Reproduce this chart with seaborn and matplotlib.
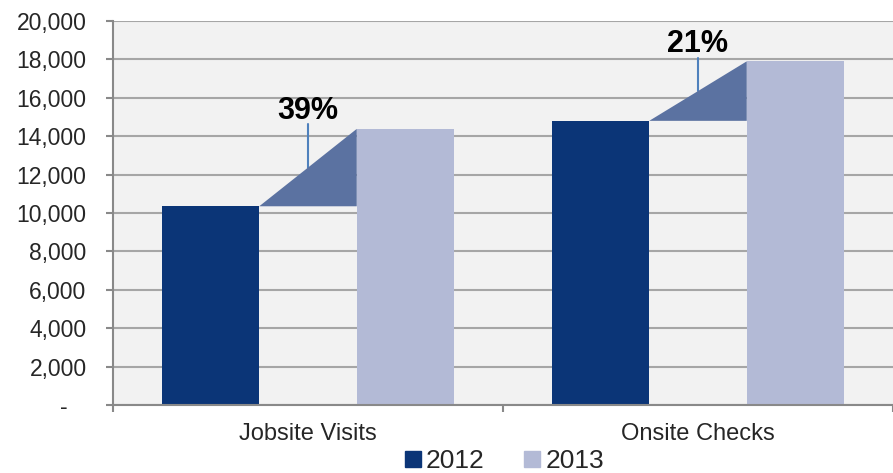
import pandas as pd
import seaborn as sns
import matplotlib.pyplot as plt
from matplotlib.lines import Line2D
from matplotlib.patches import Polygon
from matplotlib.ticker import FuncFormatter


categories = ['Jobsite Visits', 'Onsite Checks']
years = ['2012', '2013']
values_2012 = [10350, 14800]
values_2013 = [14380, 17900]
y_ticks = list(range(0, 20001, 2000))

bar_colors = ['#0B3577', '#B3BAD6']
wedge_color = '#5B72A1'
leader_color = '#4F81BD'
axis_gray = '#898989'

df = pd.DataFrame({
    'category': categories * 2,
    'year': [years[0]] * len(categories) + [years[1]] * len(categories),
    'value': values_2012 + values_2013,
})

sns.set_theme(style='white')
plt.rcParams['font.family'] = ['Liberation Sans', 'DejaVu Sans']

fig = plt.figure(figsize=(8.93, 4.73), dpi=100)
ax = fig.add_axes([113 / 893, 1 - 405 / 473, 1 - 113 / 893, (405 - 21) / 473])
ax.set_facecolor('#F2F2F2')
ax.set_axisbelow(True)

sns.barplot(data=df, x='category', y='value', hue='year', palette=bar_colors,
            width=1.0, gap=0.5, saturation=1, errorbar=None, legend=False,
            linewidth=0, edgecolor='none', ax=ax)

# wedge + leader line + growth label between each pair of bars
for i in range(len(categories)):
    r1 = ax.containers[0][i]
    r2 = ax.containers[1][i]
    x0 = r1.get_x() + r1.get_width()
    x1 = r2.get_x()
    y0 = r1.get_height()
    y1 = r2.get_height()
    ax.add_patch(Polygon([(x0, y0), (x1, y1), (x1, y0)], closed=True,
                         facecolor=wedge_color, edgecolor='none', zorder=3))
    xm = (x0 + x1) / 2
    ym = (y0 + y1) / 2
    top = ym + 0.56 * (y1 - y0)
    ax.plot([xm, xm], [ym, top], color=leader_color, lw=1.5, zorder=2)
    ax.text(xm, top + 300, f'{y1 / y0 - 1:.0%}', ha='center', va='baseline',
            fontsize=22, fontweight='bold', color='black')

ax.set_ylim(0, 20000)
ax.set_xlim(-0.5, len(categories) - 0.5)
ax.set_yticks(y_ticks)
ax.yaxis.set_major_formatter(FuncFormatter(lambda v, p: '-   ' if v == 0 else f'{v:,.0f}'))
ax.yaxis.grid(True, color='#A6A6A6', lw=1.5)
ax.xaxis.grid(False)

ax.set_xticks([k - 0.5 for k in range(len(categories) + 1)])
ax.set_xticklabels([''] * (len(categories) + 1))
ax.set_xticks(range(len(categories)), minor=True)
ax.set_xticklabels(categories, minor=True)
ax.tick_params(axis='x', which='major', bottom=True, length=5, width=1.5, color=axis_gray)
ax.tick_params(axis='x', which='minor', bottom=True, length=0, pad=13, labelsize=17)
ax.tick_params(axis='y', left=True, length=5, width=1.5, color=axis_gray, pad=14, labelsize=16.5)
ax.set_xlabel('')
ax.set_ylabel('')

for s in ['top', 'right']:
    ax.spines[s].set_visible(False)
for s in ['left', 'bottom']:
    ax.spines[s].set_color(axis_gray)
    ax.spines[s].set_linewidth(1.5)

handles = [Line2D([], [], marker='s', ls='', color=c, markersize=12) for c in bar_colors]
fig.legend(handles, years, loc='center', bbox_to_anchor=(503 / 893, 1 - 461 / 473),
           ncol=2, frameon=False, fontsize=19, handletextpad=0.1,
           columnspacing=1.4, handlelength=0.8, borderpad=0)

fig.savefig('out.png', dpi=100)
